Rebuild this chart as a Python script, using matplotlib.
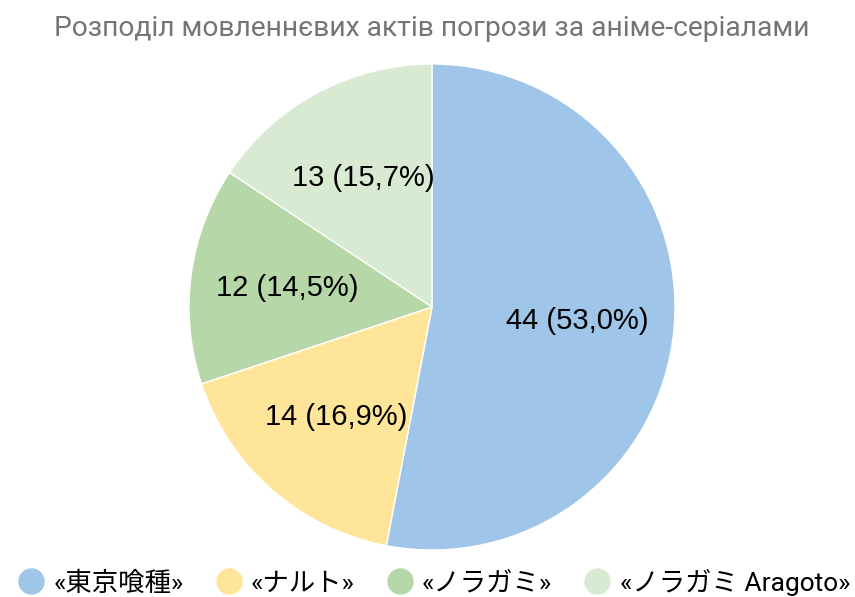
import matplotlib
matplotlib.use("Agg")
import matplotlib.pyplot as plt
from matplotlib.lines import Line2D

categories = ["«東京喰種»", "«ナルト»", "«ノラガミ»", "«ノラガミ Aragoto»"]
values = [44, 14, 12, 13]
colors = ["#9fc5e8", "#ffe599", "#b6d7a8", "#d9ead3"]
title = "Розподіл мовленнєвих актів погрози за аніме-серіалами"

total = sum(values)

fig = plt.figure(figsize=(8.55, 5.97), dpi=100)
cx, cy, r = 432, 307, 243
W, H = 855, 597
ax = fig.add_axes([(cx - r) / W, (H - cy - r) / H, 2 * r / W, 2 * r / H])

def fmt(pct):
    v = int(round(pct * total / 100))
    return f"{v} ({pct:.1f}%)".replace(".", ",")

wedges, texts, autotexts = ax.pie(
    values, colors=colors, startangle=90, counterclock=False,
    autopct=fmt, pctdistance=0.6, radius=1,
    wedgeprops=dict(edgecolor="white", linewidth=1),
    textprops=dict(fontsize=21, color="#000000", family=["Liberation Sans", "DejaVu Sans"]),
)
ax.set_xlim(-1, 1)
ax.set_ylim(-1, 1)
ax.set_aspect("equal")

fig.text(432 / W, 1 - 28 / H, title, ha="center", va="center", fontsize=20.3,
         color="#757575", family=["Roboto", "DejaVu Sans"])

handles = [Line2D([], [], marker="o", linestyle="none", markersize=18,
                  markerfacecolor=c, markeredgecolor=c) for c in colors]
fig.legend(handles, categories, loc="center", bbox_to_anchor=(434 / W, 1 - 582 / H),
           ncol=4, frameon=False, handletextpad=0.35, columnspacing=1.2,
           prop=dict(family=["Roboto", "Noto Sans CJK JP", "DejaVu Sans"], size=19),
           handlelength=1.0)

fig.savefig("out.png", dpi=100)
